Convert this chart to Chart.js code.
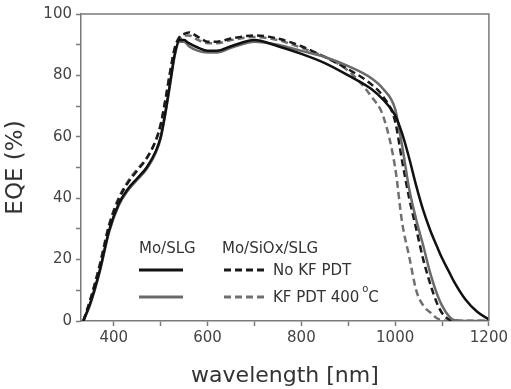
<!DOCTYPE html>
<html><head><meta charset="utf-8">
<script src="https://cdn.jsdelivr.net/npm/chart.js@4.4.0/dist/chart.umd.min.js"></script>
<style>html,body{margin:0;padding:0;background:#fff}#wrap{width:511px;height:389px}</style>
</head><body><div id="wrap"><canvas id="c" width="511" height="389"></canvas></div>
<script>
const wavelength = [335,350,370,390,410,430,450,470,490,500,510,520,530,540,550,560,580,600,620,650,700,750,800,850,900,950,975,1000,1015,1030,1045,1060,1075,1090,1100,1115,1125,1150,1175,1200];
const eqeMoSLG_noKF   = [0,6,16.5,29.5,38,43,46.5,50,55.5,60,68,77.5,87,91.5,91.5,90.5,89,88,88,89.5,91.5,89.5,87,84,80,75.5,72,67,61,53,44,36,29.5,24,20.5,16,13,7,3,0.5];
const eqeMoSLG_KF     = [0,5.5,16,29,37.5,42.5,46,49.5,55,59.5,67.5,77,86.5,91,91,89.5,88,87.5,87.5,89,91,90,88,86,83,79,75.5,69,57,43,33,24.5,15.5,8.5,5,1.5,0.3,0,0,0];
const eqeMoSiOx_noKF  = [0,7,18,31,39.5,45,49,53,59,64,72,81,89,92.5,93.5,94,92.5,91,91,92,93,92,89.5,86,82,77,73,65,52,40,30,20,12,5.5,2.6,0.5,0.2,0,0,0];
const eqeMoSiOx_KF    = [0,7,18.5,31.5,40,45.5,49.5,53,59,64,72,81,88.5,91.5,93,93,91.5,90.5,90.5,91.5,92.5,91.5,89,86,81.5,73,66.5,50,32,21,10,5,2.8,0.8,0.3,0,0,0,0,0];
const xTicks = [400,500,600,700,800,900,1000,1100,1200];
const xLabels = [400,600,800,1000,1200];
const yTicks = [0,10,20,30,40,50,60,70,80,90,100];
const yLabels = [0,20,40,60,80,100];
const legendColumns = ["Mo/SLG","Mo/SiOx/SLG"];
const legendRows = ["No KF PDT","KF PDT 400 "];

const pts = arr => wavelength.map((w,i)=>({x:w,y:arr[i]}));
const FONT = "'DejaVu Sans', Verdana, sans-serif";

const frame = {
  id:'frame',
  afterDatasetsDraw(chart){
    const {ctx, chartArea:a} = chart;
    ctx.save();
    ctx.strokeStyle='#7a7a7a'; ctx.lineWidth=1.5;
    ctx.beginPath();
    ctx.moveTo(a.left,a.top); ctx.lineTo(a.right,a.top); ctx.lineTo(a.right,a.bottom);
    ctx.stroke();
    const ds = chart.data.datasets;
    ctx.font = "15px "+FONT; ctx.fillStyle='#333'; ctx.textBaseline='middle';
    ctx.fillText(legendColumns[0], 139, 249);
    ctx.fillText(legendColumns[1], 222, 249);
    const rowsY=[270,297];
    const segs = [[ds[0],139,183,0],[ds[1],139,183,1],[ds[2],224,268,0],[ds[3],224,268,1]];
    segs.forEach(([d,x1,x2,r])=>{
      ctx.strokeStyle=d.borderColor; ctx.lineWidth=d.borderWidth+0.5;
      ctx.setLineDash(d.borderDash||[]);
      ctx.beginPath(); ctx.moveTo(x1,rowsY[r]); ctx.lineTo(x2,rowsY[r]); ctx.stroke();
    });
    ctx.setLineDash([]);
    ctx.fillStyle='#333';
    ctx.fillText(legendRows[0], 273, 271);
    ctx.fillText(legendRows[1], 273, 298);
    const w = ctx.measureText(legendRows[1]).width;
    ctx.font = "10px "+FONT;
    ctx.fillText("o", 273+w-2, 289);
    const w2 = ctx.measureText("o").width;
    ctx.font = "15px "+FONT;
    ctx.fillText("C", 273+w-2+w2, 298);
    ctx.restore();
  }
};

new Chart(document.getElementById('c'), {
  type:'line',
  data:{datasets:[
    {label:'Mo/SLG No KF PDT', data:pts(eqeMoSLG_noKF), borderColor:'#111111', borderWidth:2.5},
    {label:'Mo/SLG KF PDT 400 °C', data:pts(eqeMoSLG_KF), borderColor:'#6a6a6a', borderWidth:2.5},
    {label:'Mo/SiOx/SLG No KF PDT', data:pts(eqeMoSiOx_noKF), borderColor:'#1a1a1a', borderWidth:2.5, borderDash:[7,4]},
    {label:'Mo/SiOx/SLG KF PDT 400 °C', data:pts(eqeMoSiOx_KF), borderColor:'#707070', borderWidth:2.5, borderDash:[7,4]}
  ].map(d=>Object.assign(d,{pointRadius:0, fill:false, cubicInterpolationMode:'monotone'}))},
  options:{
    responsive:false, animation:false, devicePixelRatio:1,
    layout:{padding:{left:0,right:18,top:14,bottom:0}},
    plugins:{legend:{display:false}, tooltip:{enabled:false}},
    scales:{
      x:{type:'linear', min:330, max:1200,
        afterBuildTicks:s=>{s.ticks = xTicks.map(v=>({value:v}));},
        afterFit:s=>{s.height=68;},
        ticks:{autoSkip:false, maxRotation:0, padding:3, color:'#444', font:{family:FONT,size:15},
          callback:v=> xLabels.includes(v)? String(v):''},
        grid:{drawOnChartArea:false, drawTicks:true, tickLength:5, tickColor:'#7a7a7a', tickWidth:1.5},
        border:{display:true, color:'#7a7a7a', width:1.5},
        title:{display:true, text:'wavelength [nm]', color:'#333', font:{family:FONT,size:22}, padding:{top:4,bottom:0}}
      },
      y:{min:0, max:100,
        afterBuildTicks:s=>{s.ticks = yTicks.map(v=>({value:v}));},
        afterFit:s=>{s.width=81;},
        ticks:{autoSkip:false, padding:4, color:'#444', font:{family:FONT,size:15},
          callback:v=> yLabels.includes(v)? String(v):''},
        grid:{drawOnChartArea:false, drawTicks:true, tickLength:5, tickColor:'#7a7a7a', tickWidth:1.5},
        border:{display:true, color:'#7a7a7a', width:1.5},
        title:{display:true, text:'EQE (%)', color:'#333', font:{family:FONT,size:23}, padding:{top:2,bottom:4}}
      }
    }
  },
  plugins:[frame]
});
</script></body></html>
